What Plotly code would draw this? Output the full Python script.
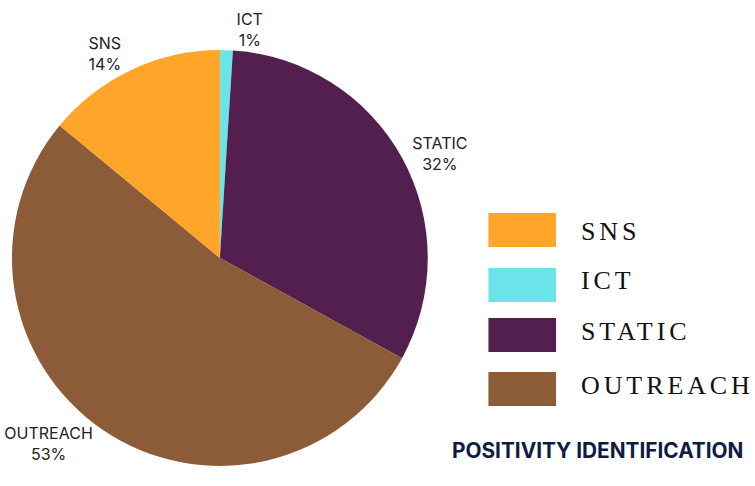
import plotly.graph_objects as go

# ---- data ----
categories = ["ICT", "STATIC", "OUTREACH", "SNS"]
values = [1, 32, 53, 14]
colors = ["#6AE4E8", "#531F4E", "#8C5C38", "#FFA52A"]

legend_order = ["SNS", "ICT", "STATIC", "OUTREACH"]
title_text = "POSITIVITY IDENTIFICATION"

W, H = 755, 486

fig = go.Figure()
fig.add_trace(go.Pie(
    labels=categories,
    values=values,
    marker=dict(colors=colors, line=dict(width=0)),
    sort=False,
    direction="clockwise",
    rotation=0,
    textposition="outside",
    textinfo="label+percent",
    texttemplate="%{label}<br>%{percent:.0%}",
    textfont=dict(family="Inter, Open Sans, sans-serif", size=16, color="#222222"),
    showlegend=False,
    hoverinfo="label+percent",
    domain=dict(x=[8 / W, 426 / W], y=[1 - 467 / H, 1 - 49 / H]),
))

# custom legend (large swatches + letter-spaced serif text)
color_of = dict(zip(categories, colors))
rect_tops = [213, 268, 318, 372]
text_mid = [231, 280, 331, 385]
shapes = []
annotations = []
for name, top, tm in zip(legend_order, rect_tops, text_mid):
    shapes.append(dict(
        type="rect", xref="paper", yref="paper",
        x0=487 / W, x1=555 / W, y0=1 - (top + 34) / H, y1=1 - top / H,
        fillcolor=color_of[name], line=dict(width=0),
    ))
    annotations.append(dict(
        text=name, xref="paper", yref="paper",
        x=578 / W, y=1 - tm / H, xanchor="left", yanchor="middle",
        showarrow=False,
        font=dict(family="Liberation Serif, Times New Roman, serif", size=26, color="#111111"),
    ))

annotations.append(dict(
    text="<b>" + title_text + "</b>", xref="paper", yref="paper",
    x=597 / W, y=1 - 450 / H, xanchor="center", yanchor="middle",
    showarrow=False,
    font=dict(family="Inter, Roboto, sans-serif", size=20.8, color="#101A45", weight=900),
))

fig.update_layout(
    width=W, height=H,
    margin=dict(l=0, r=0, t=0, b=0),
    paper_bgcolor="white",
    plot_bgcolor="white",
    shapes=shapes,
    annotations=annotations,
)

post = """
document.body.style.margin = '0';
var gd = document.getElementById('{plot_id}');
var names = %s;
function spaceOut(){
  gd.querySelectorAll('.annotation-text').forEach(function(t){
    var s = t.textContent;
    if (names.indexOf(s) >= 0 && !t.getAttribute('data-spaced')) {
      var bb = t.getBBox();
      t.setAttribute('text-anchor', 'start');
      t.setAttribute('x', bb.x);
      t.style.letterSpacing = '3.9px';
      t.setAttribute('data-spaced', '1');
    }
  });
}
spaceOut();
gd.on('plotly_afterplot', spaceOut);
""" % (str(legend_order).replace("'", '"'))

fig.write_html("out.html", post_script=post, config={"displayModeBar": False})
